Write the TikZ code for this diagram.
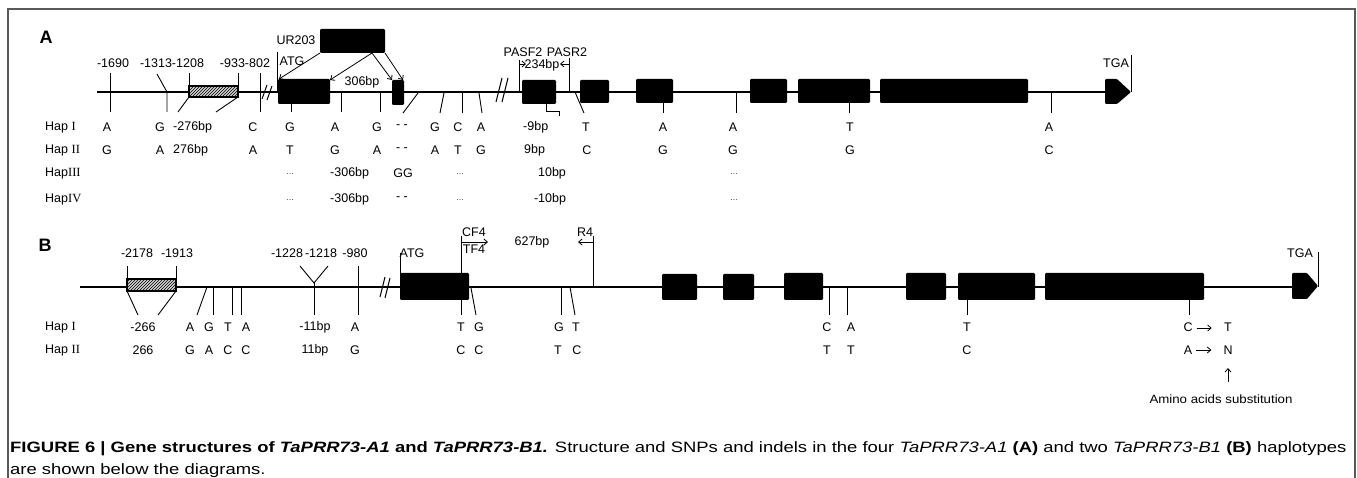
\documentclass[tikz,border=0pt]{standalone}
\usepackage{fontspec}
\usepackage{graphicx}
\setmainfont{Liberation Sans}
\newfontfamily\rmnum{Liberation Serif}
\usetikzlibrary{patterns,arrows.meta}
\begin{document}
\begin{tikzpicture}[x=1pt,y=-1pt,
  lb/.style={font=\fontsize{12.5}{14}\selectfont, inner sep=0pt},
  hp/.style={font=\fontsize{12.5}{14}\selectfont, inner sep=0pt},
  hl/.style={font=\fontsize{12.5}{14}\selectfont, inner sep=0pt, anchor=west},
  dots/.style={font=\fontsize{9}{10}\selectfont, inner sep=0pt, text=black!70},
  panel/.style={font=\bfseries\fontsize{18}{20}\selectfont, inner sep=0pt},
  exon/.style={fill=black, rounded corners=1.2pt},
  gene/.style={line width=2.2pt},
  tk/.style={line width=0.9pt},
  brk/.style={line width=1pt},
  hatch/.style={draw=black, line width=1.3pt, fill=gray!35, postaction={pattern=north east lines}},
  barb/.style={-{Straight Barb[length=3.5pt,width=6pt]}, line width=0.8pt},
  frame/.style={draw=black!65, line width=1.3pt}
]
\useasboundingbox (0,0) rectangle (1357,478);
\draw[frame] (8,478) -- (8,9) -- (1355,9) -- (1355,478);

% ================= Panel A =================
\node[panel] (labA) at (46,37) {A};
\draw[gene] (97,92) -- (1106,92);
\node[lb] (a1690) at (113,63) {-1690};
\node[lb] (a1313) at (172,63) {-1313-1208};
\node[lb] (a933) at (245,63) {-933-802};
\draw[tk] (110,73) -- (110,112);
\draw[tk] (157,74) -- (167,92) -- (167,112);
\draw[hatch] (189,86) rectangle (238,97);
\draw[tk] (189,73) -- (189,86);
\draw[tk] (238,73) -- (238,86);
\draw[tk] (189,97) -- (178,112);
\draw[tk] (238,97) -- (216,112);
\draw[tk] (260,73) -- (260,112);
\draw[brk] (262,99) -- (267,85);
\draw[brk] (267,100) -- (272,86);
% ATG and first exon
\draw[tk] (277,52) -- (277,92);
\node[lb] (aur) at (296,40) {UR203};
\node[lb] (aatg) at (292,61) {ATG};
\fill[exon] (278,79) rectangle (330,104);
\node[exon, draw=none, minimum width=65pt, minimum height=24pt, inner sep=0pt] (urbox) at (352.5,41) {};
\fill[exon] (392,80) rectangle (404,105);
\coordinate (e1a) at (279,79);
\coordinate (e1b) at (330,80);
\coordinate (e2a) at (392,80);
\coordinate (e2b) at (403,80);
\coordinate (ur1) at (320,53);
\coordinate (ur2) at (372,53);
\coordinate (ur3) at (385,53);
\draw[barb] (ur1) -- (e1a);
\draw[barb] (ur2) -- (e1b);
\draw[barb] (ur2) -- (e2a);
\draw[barb] (ur3) -- (e2b);
\node[lb] (a306) at (362,82) {306bp};
\draw[tk] (291,104) -- (291,112);
\draw[tk] (341,92) -- (341,112);
\draw[tk] (380,92) -- (380,112);
\draw[tk] (418,93) -- (403,113);
\draw[tk] (444,93) -- (440,113);
\draw[tk] (462,93) -- (462,113);
\draw[tk] (479,93) -- (482,113);
\draw[brk] (496,102) -- (502,78);
\draw[brk] (502,102) -- (508,78);
% primers PASF2 / PASR2
\node[lb] (pasf) at (523,52) {PASF2};
\node[lb] (pasr) at (567,52) {PASR2};
\node[lb] (a234) at (542,65) {234bp};
\coordinate (pf) at (519,64);
\coordinate (pr) at (569,64);
\draw[tk] (519,60) -- (519,92);
\draw[tk] (569,58) -- (569,92);
\draw[barb] (pf) -- ++(7,0);
\draw[barb] (pr) -- ++(-9,0);
\fill[exon] (522,80) rectangle (556,104);
\draw[tk] (546,104) -- (546,111) -- (559,111) -- (559,116);
\draw[tk] (575,92) -- (584,113);
\fill[exon] (580,80) rectangle (609,103);
\fill[exon] (636,79) rectangle (673,103);
\draw[tk] (663,103) -- (663,113);
\draw[tk] (736,92) -- (736,113);
\fill[exon] (750,79) rectangle (787,103);
\fill[exon] (798,79) rectangle (870,103);
\draw[tk] (849,103) -- (849,113);
\fill[exon] (880,79) rectangle (1028,103);
\draw[tk] (1051,92) -- (1051,113);
\fill[rounded corners=1pt] (1105,79) -- (1117,79) -- (1131,92) -- (1117,104) -- (1105,104) -- cycle;
\draw[tk] (1131,55) -- (1131,92);
\node[lb] (atga) at (1116,63) {TGA};

% haplotype rows A
\node[hl] (hA1) at (45,127) {Hap {\rmnum I}};
\node[hl] (hA2) at (45,150) {Hap {\rmnum II}};
\node[hl] (hA3) at (45,173) {Hap{\rmnum III}};
\node[hl] (hA4) at (45,199) {Hap{\rmnum IV}};
% row I
\foreach \x/\t [count=\i] in {107/A,160/G,253/C,290/G,335/A,377/G,402/- -,435/G,458/C,481/A,586/T,663/A,733/A,850/T,1049/A}
  \node[hp] (r1n\i) at (\x,127) {\t};
\node[hl] (r1a) at (173,127) {-276bp};
\node[hl] (r1b) at (523,127) {-9bp};
% row II
\foreach \x/\t [count=\i] in {107/G,160/A,253/A,290/T,335/G,377/A,402/- -,435/A,458/T,481/G,587/C,663/G,733/G,850/G,1049/C}
  \node[hp] (r2n\i) at (\x,150) {\t};
\node[hl] (r2a) at (173,150) {276bp};
\node[hl] (r2b) at (524,150) {9bp};
% row III
\node[dots] (r3d1) at (290,174) {...};
\node[hl] (r3a) at (330,173) {-306bp};
\node[hp] (r3b) at (403,173) {GG};
\node[dots] (r3d2) at (460,174) {...};
\node[hp] (r3c) at (552,173) {10bp};
\node[dots] (r3d3) at (734,174) {...};
% row IV
\node[dots] (r4d1) at (290,200) {...};
\node[hl] (r4a) at (330,199) {-306bp};
\node[hp] (r4b) at (402,199) {- -};
\node[dots] (r4d2) at (460,200) {...};
\node[hp] (r4c) at (550,199) {-10bp};
\node[dots] (r4d3) at (734,200) {...};

% ================= Panel B =================
\node[panel] (labB) at (45,245) {B};
\draw[gene] (80,287) -- (1293,287);
\node[lb] (b2178) at (137,253) {-2178};
\node[lb] (b1913) at (177,253) {-1913};
\node[lb] (b1228) at (287,253) {-1228};
\node[lb] (b1218) at (321,253) {-1218};
\node[lb] (b980) at (355,253) {-980};
\draw[hatch] (127,279) rectangle (176,291);
\draw[tk] (127,266) -- (127,279);
\draw[tk] (176,266) -- (176,279);
\draw[tk] (127,291) -- (138,315);
\draw[tk] (176,291) -- (158,315);
\draw[tk] (207,287) -- (197,315);
\draw[tk] (213,287) -- (213,315);
\draw[tk] (232,287) -- (232,315);
\draw[tk] (241,287) -- (241,315);
\draw[tk] (300,266) -- (314,283) -- (328,266);
\draw[tk] (314,283) -- (314,315);
\draw[tk] (358,266) -- (358,315);
\draw[brk] (380,297) -- (385,277);
\draw[brk] (385,298) -- (390,278);
\draw[tk] (400,253) -- (400,287);
\node[lb] (batg) at (412,253) {ATG};
\fill[exon] (400,273) rectangle (469,300);
% primers CF4/TF4 and R4
\draw[tk] (461,236) -- (461,315);
\draw[tk] (593,236) -- (593,287);
\coordinate (cf) at (461,242);
\coordinate (rr) at (593,242);
\draw[barb] (cf) -- ++(27,0);
\draw[barb] (rr) -- ++(-15,0);
\node[lb] (bcf4) at (474,232) {CF4};
\node[lb] (btf4) at (474,249) {TF4};
\node[lb] (b627) at (532,242) {627bp};
\node[lb] (br4) at (585,232) {R4};
\draw[tk] (471,288) -- (476,315);
\draw[tk] (561,287) -- (561,315);
\draw[tk] (570,287) -- (575,315);
\fill[exon] (662,274) rectangle (697,300);
\fill[exon] (723,274) rectangle (754,300);
\fill[exon] (784,273) rectangle (823,300);
\draw[tk] (829,287) -- (829,315);
\draw[tk] (847,287) -- (847,315);
\fill[exon] (906,273) rectangle (946,300);
\fill[exon] (958,273) rectangle (1035,300);
\fill[exon] (1045,273) rectangle (1204,300);
\draw[tk] (967,300) -- (967,315);
\draw[tk] (1189,300) -- (1189,315);
\fill[rounded corners=1pt] (1292,273) -- (1307,273) -- (1318,286) -- (1307,299) -- (1292,299) -- cycle;
\draw[tk] (1318,252) -- (1318,287);
\node[lb] (btga) at (1300,253) {TGA};

% haplotype rows B
\node[hl] (hB1) at (45,327) {Hap {\rmnum I}};
\node[hl] (hB2) at (45,350) {Hap {\rmnum II}};
\foreach \x/\t [count=\i] in {143/-266,190/A,209/G,228/T,246/A,315/-11bp,355/A,461/T,479/G,559/G,576/T,827/C,851/A,967/T,1188/C,1228/T}
  \node[hp] (s1n\i) at (\x,327) {\t};
\foreach \x/\t [count=\i] in {143/266,190/G,209/A,228/C,246/C,315/11bp,355/G,461/C,479/C,558/T,577/C,827/T,851/T,967/C,1188/A,1228/N}
  \node[hp] (s2n\i) at (\x,350) {\t};
\draw[barb] (s1n15.east) ++(4,1) -- ++(15,0);
\draw[barb] (s2n15.east) ++(4,0) -- ++(15,0);
\coordinate (upb) at (1228,382);
\draw[barb] (upb) -- ++(0,-14);
\node[font=\fontsize{12}{13}\selectfont, inner sep=0pt] (amino) at (1221,399) {\resizebox{143pt}{\height}{Amino acids substitution}};

% caption
\node[anchor=base west, inner sep=0pt] (cap) at (10,452) {\resizebox{1336pt}{\height}{\fontsize{15}{22}\selectfont\begin{tabular}[t]{@{}l@{}}%
\textbf{FIGURE 6 {\textbar} Gene structures of \textit{TaPRR73-A1} and \textit{TaPRR73-B1.}} Structure and SNPs and indels in the four \textit{TaPRR73-A1} \textbf{(A)} and two \textit{TaPRR73-B1} \textbf{(B)} haplotypes\\
are shown below the diagrams.\end{tabular}}};
\end{tikzpicture}
\end{document}
